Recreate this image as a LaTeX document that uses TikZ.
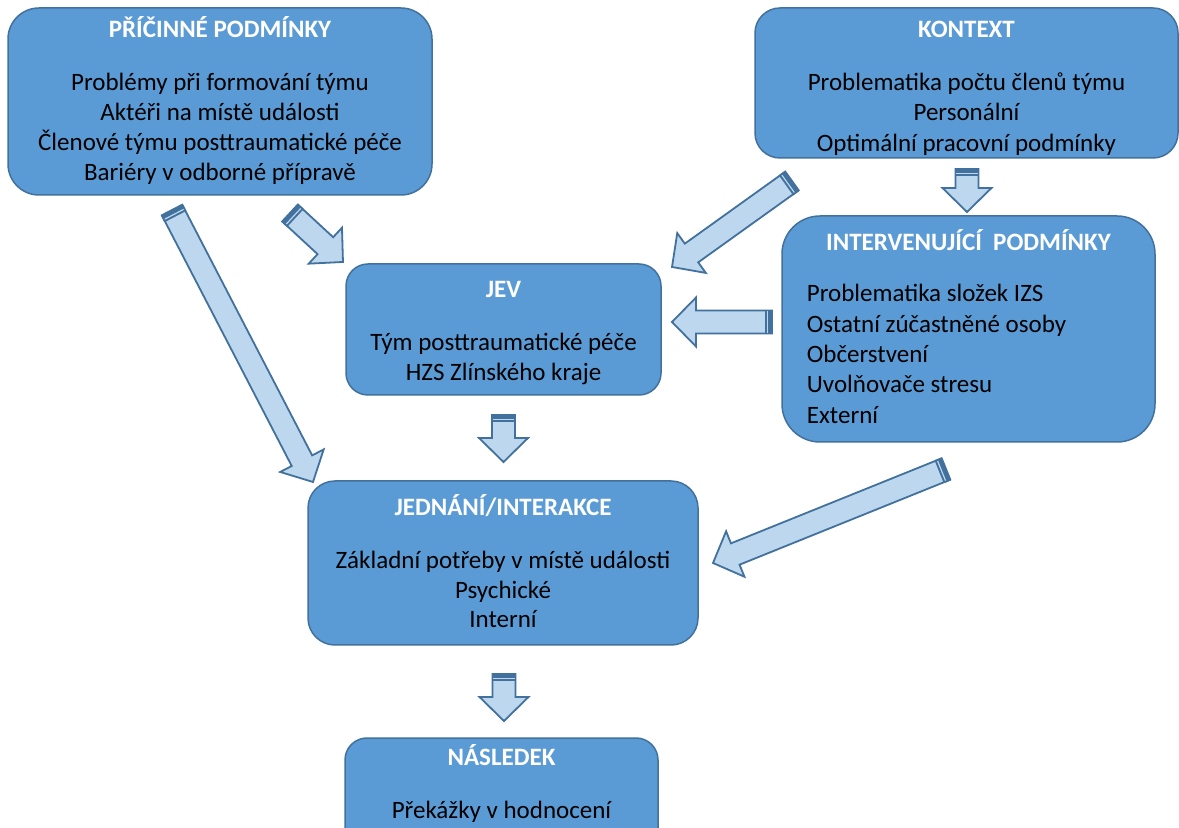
\documentclass[tikz,border=0pt]{standalone}
\usepackage{fontspec}
\setmainfont{Carlito}
\usetikzlibrary{calc}

\definecolor{boxfill}{HTML}{5B9BD5}
\definecolor{boxline}{HTML}{41719C}
\definecolor{arrowfill}{HTML}{BDD7EE}
\definecolor{arrowline}{HTML}{41719C}

% Block arrow with a striped tail, from a named tail point to a named tip
\newcommand\stripedarrow[2]{%
  \pgfmathanglebetweenpoints{\pgfpointanchor{#1}{center}}{\pgfpointanchor{#2}{center}}%
  \let\sarrang\pgfmathresult
  \pgfpointdiff{\pgfpointanchor{#1}{center}}{\pgfpointanchor{#2}{center}}%
  \pgfgetlastxy\sarrdx\sarrdy
  \pgfmathsetmacro\sarrlen{veclen(\sarrdx,\sarrdy)}%
  \begin{scope}[shift={(#1)}, rotate=\sarrang]
    \draw[arrowbody] (0pt,-5.75pt) -- ({\sarrlen pt-12pt},-5.75pt)
      -- ({\sarrlen pt-12pt},-12.25pt) -- (\sarrlen pt,0pt)
      -- ({\sarrlen pt-12pt},12.25pt) -- ({\sarrlen pt-12pt},5.75pt)
      -- (0pt,5.75pt) -- cycle;
    \fill[arrowline] (0pt,-6.2pt) rectangle (3.7pt,6.2pt);
    \fill[arrowfill] (2.1pt,-5.3pt) rectangle (2.7pt,5.3pt);
  \end{scope}}

\tikzset{
  box/.style={draw=boxline, fill=boxfill, line width=0.75pt, inner sep=0pt},
  title/.style={font=\fontsize{12.5pt}{15pt}\selectfont\bfseries, text=white, inner sep=0pt, anchor=base},
  body/.style={font=\fontsize{12.5pt}{15pt}\selectfont, text=black, inner sep=0pt, anchor=base},
  bodyleft/.style={body, anchor=base west},
  arrowbody/.style={draw=arrowline, fill=arrowfill, line width=0.9pt, line join=miter},
}

\begin{document}
\begin{tikzpicture}[x=0.5pt, y=-0.5pt]
  \clip (0,0) rectangle (1179,828);
  \fill[white] (0,0) rectangle (1179,828);

  % boxes
  \node[box, minimum width=212pt, minimum height=93.5pt, rounded corners=15.5pt] (cause) at (220,101.5) {};
  \node[box, minimum width=211.5pt, minimum height=75pt, rounded corners=12.5pt] (context) at (966.5,83) {};
  \node[box, minimum width=186.5pt, minimum height=113pt, rounded corners=19pt] (interv) at (968.5,329) {};
  \node[box, minimum width=157.5pt, minimum height=65.5pt, rounded corners=11pt] (phen) at (503.5,329.5) {};
  \node[box, minimum width=195pt, minimum height=82pt, rounded corners=13.5pt] (action) at (503,563) {};
  \node[box, minimum width=156.5pt, minimum height=65.5pt, rounded corners=11pt] (result) at (501.5,803.5) {};

  % causal conditions
  \node[title] (cause-t) at (220,37.3) {PŘÍČINNÉ PODMÍNKY};
  \foreach \txt [count=\i from 0] in {Problémy při formování týmu, Aktéři na místě události,
      Členové týmu posttraumatické péče, Bariéry v odborné přípravě}
    \node[body] (cause-l\i) at (220,{90.7+29.8*\i}) {\txt};

  % context
  \node[title] (context-t) at (966.5,37.5) {KONTEXT};
  \foreach \txt [count=\i from 0] in {Problematika počtu členů týmu, Personální, Optimální pracovní podmínky}
    \node[body] (context-l\i) at (966.5,{90.7+30.3*\i}) {\txt};

  % intervening conditions
  \node[title] (interv-t) at (968.5,250.7) {INTERVENUJÍCÍ\ \ PODMÍNKY};
  \foreach \txt [count=\i from 0] in {Problematika složek IZS, Ostatní zúčastněné osoby,
      Občerstvení, Uvolňovače stresu, Externí}
    \node[bodyleft] (interv-l\i) at (806.5,{301.7+30.4*\i}) {\txt};

  % phenomenon
  \node[title] (phen-t) at (503.5,297.5) {JEV};
  \foreach \txt [count=\i from 0] in {Tým posttraumatické péče, HZS Zlínského kraje}
    \node[body] (phen-l\i) at (503.5,{350.5+30.5*\i}) {\txt};

  % action / interaction
  \node[title] (action-t) at (503,515.7) {JEDNÁNÍ/INTERAKCE};
  \foreach \txt [count=\i from 0] in {Základní potřeby v místě události, Psychické, Interní}
    \node[body] (action-l\i) at (503,{569+29.5*\i}) {\txt};

  % consequence
  \node[title] (result-t) at (501.5,765) {NÁSLEDEK};
  \node[body] (result-l0) at (501.5,818) {Překážky v hodnocení};

  % arrow end points
  \coordinate (a1s) at (172,210);   \coordinate (a1e) at (313,482);
  \coordinate (a2s) at (290,213);   \coordinate (a2e) at (343,262);
  \coordinate (a3s) at (792,181);   \coordinate (a3e) at (672,267);
  \coordinate (a4s) at (967,169);   \coordinate (a4e) at (967,212);
  \coordinate (a5s) at (772,322);   \coordinate (a5e) at (672,322);
  \coordinate (a6s) at (503.5,415); \coordinate (a6e) at (503.5,462);
  \coordinate (a7s) at (946,469);   \coordinate (a7e) at (713,563);
  \coordinate (a8s) at (504,674);   \coordinate (a8e) at (504,721);

  \stripedarrow{a1s}{a1e}
  \stripedarrow{a2s}{a2e}
  \stripedarrow{a3s}{a3e}
  \stripedarrow{a4s}{a4e}
  \stripedarrow{a5s}{a5e}
  \stripedarrow{a6s}{a6e}
  \stripedarrow{a7s}{a7e}
  \stripedarrow{a8s}{a8e}
\end{tikzpicture}
\end{document}
